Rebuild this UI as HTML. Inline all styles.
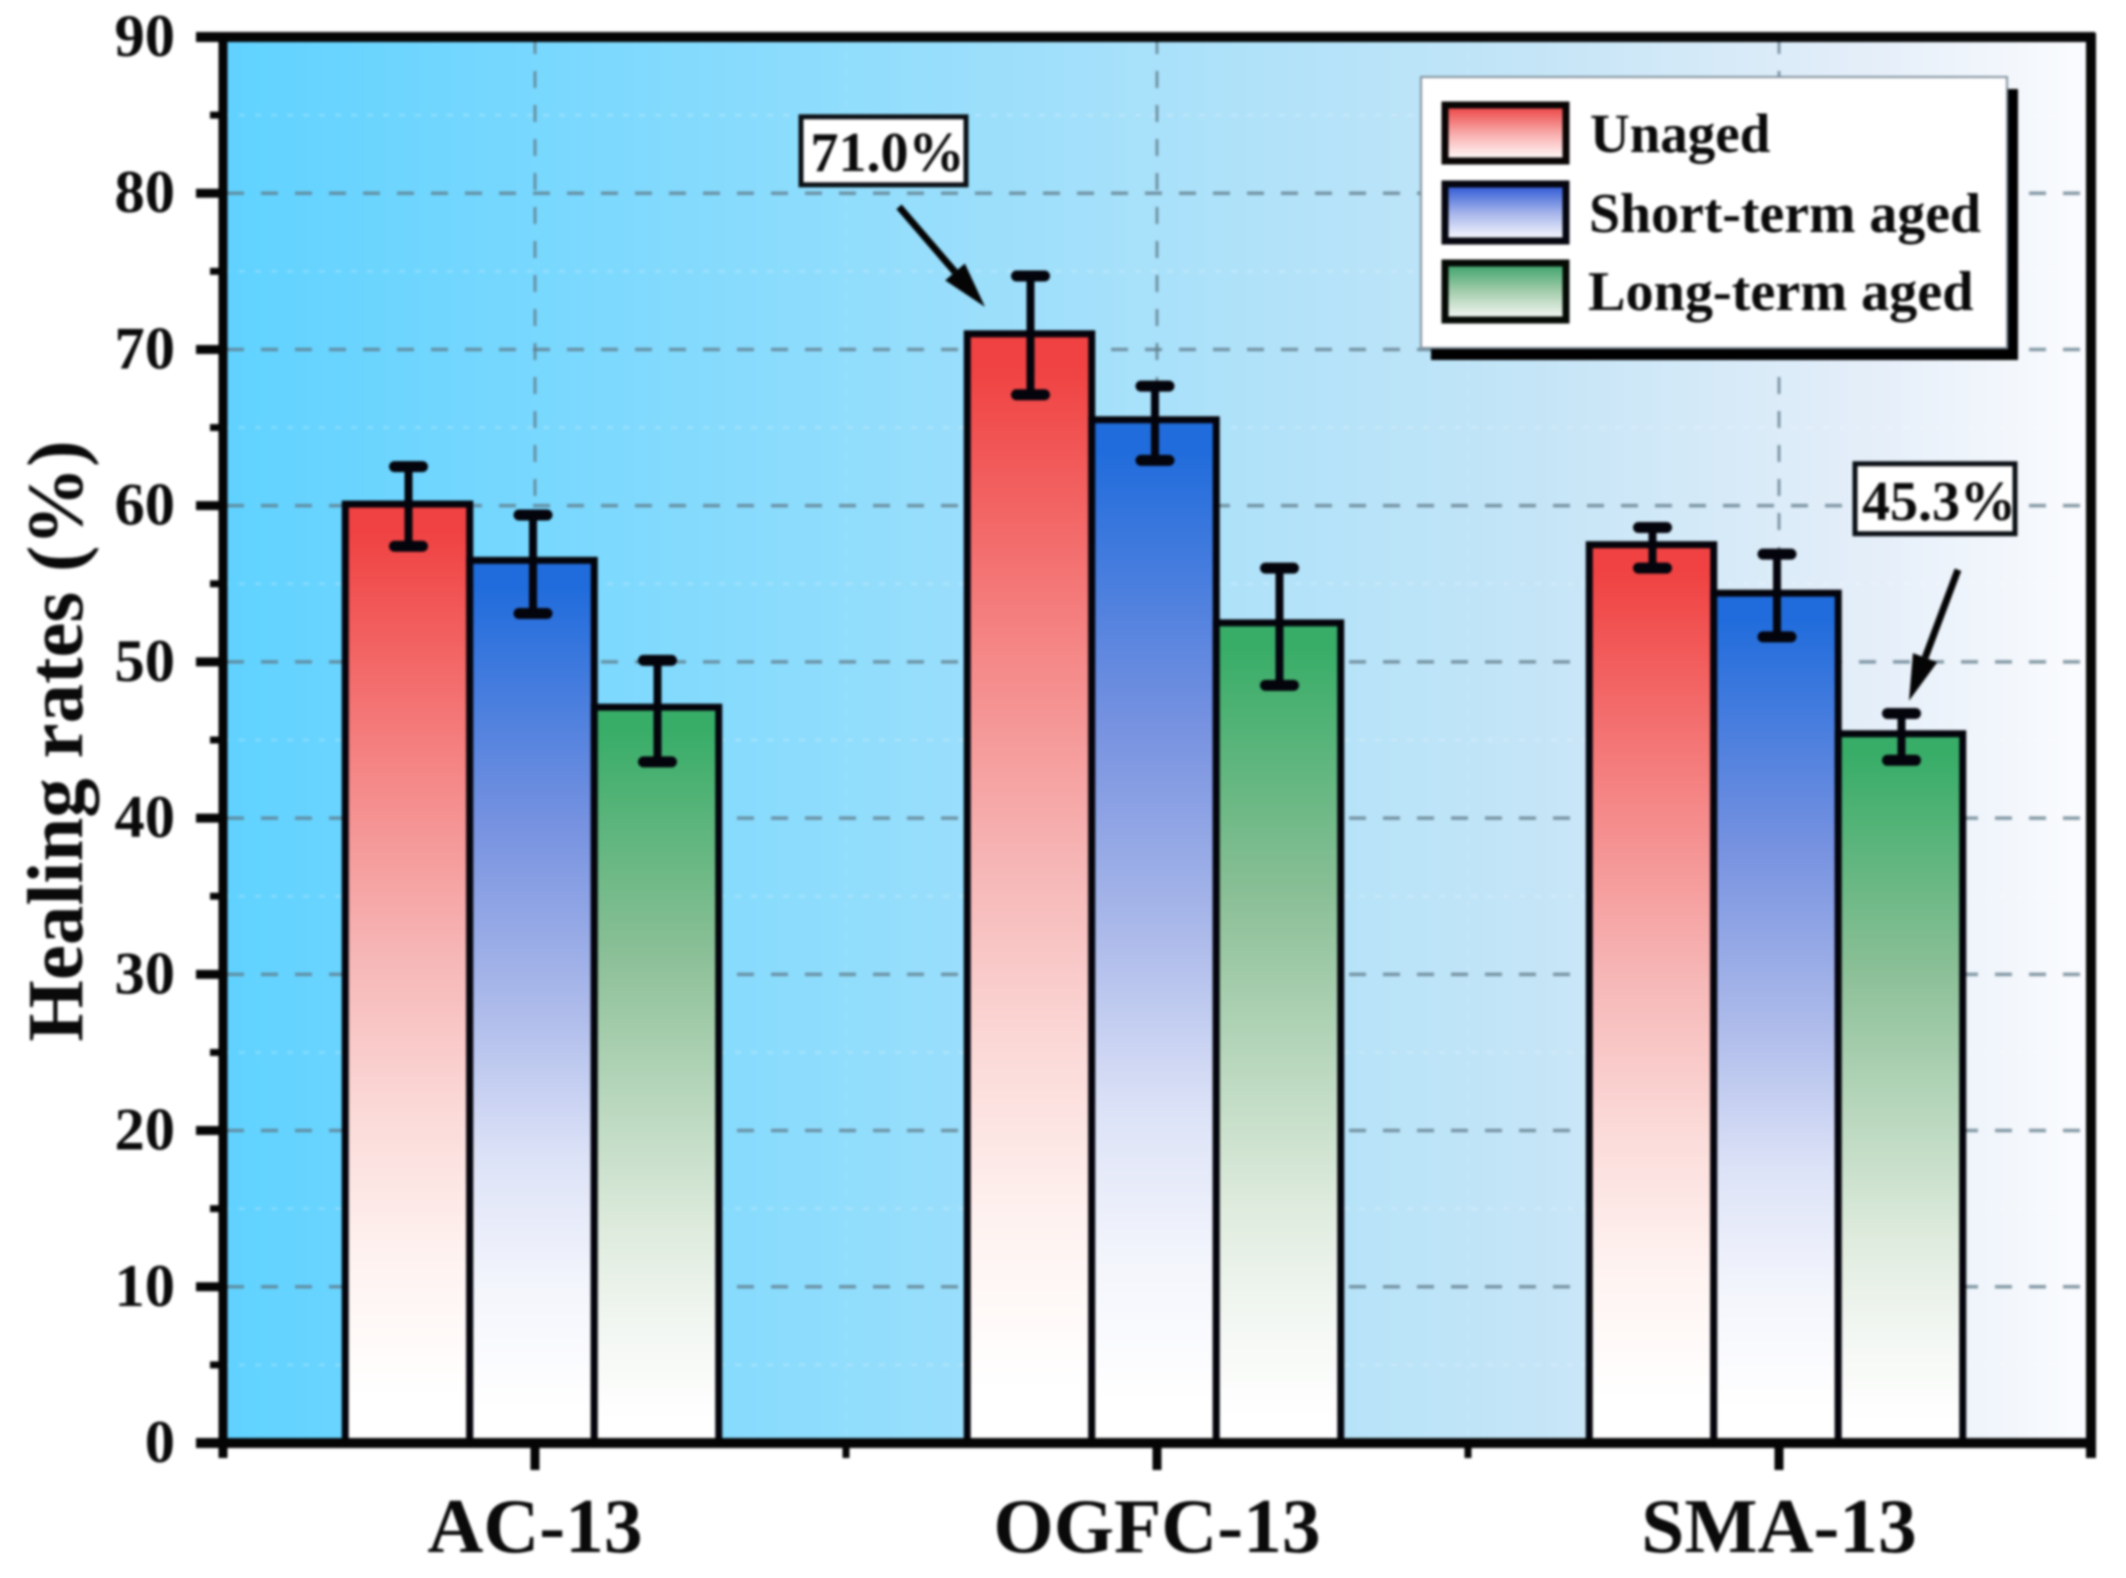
<!DOCTYPE html>
<html lang="en">
<head>
<meta charset="utf-8">
<title>Healing rates chart</title>
<style>
  html, body { margin: 0; padding: 0; background: #ffffff; }
  #chart { display: block; width: 2126px; height: 1578px; filter: blur(1.2px); font-family: "Liberation Serif", serif; }
  text { font-family: "Liberation Serif", serif; font-weight: bold; fill: #0a0a0a; }
</style>
</head>
<body>
<svg id="chart" xmlns="http://www.w3.org/2000/svg" width="2126" height="1578" viewBox="0 0 2126 1578">
  <defs>
    <linearGradient id="plot-bg" x1="0" y1="0" x2="1" y2="0">
      <stop offset="0" stop-color="#60d2ff"/>
      <stop offset="0.3" stop-color="#8bdcfd"/>
      <stop offset="0.5" stop-color="#a9e1fa"/>
      <stop offset="0.7" stop-color="#c4e5f7"/>
      <stop offset="0.88" stop-color="#e4eef9"/>
      <stop offset="1" stop-color="#fbfcfe"/>
    </linearGradient>
    <linearGradient id="fill-unaged" x1="0" y1="0" x2="0" y2="1">
      <stop offset="0.03" stop-color="#f04242"/>
      <stop offset="0.28" stop-color="#f58585"/>
      <stop offset="0.48" stop-color="#f6b6b6"/>
      <stop offset="0.66" stop-color="#fbdcda"/>
      <stop offset="0.8" stop-color="#fef2f0"/>
      <stop offset="0.95" stop-color="#ffffff"/>
    </linearGradient>
    <linearGradient id="fill-short" x1="0" y1="0" x2="0" y2="1">
      <stop offset="0.03" stop-color="#206cdc"/>
      <stop offset="0.3" stop-color="#7792e0"/>
      <stop offset="0.5" stop-color="#abb9ea"/>
      <stop offset="0.68" stop-color="#dde3f7"/>
      <stop offset="0.82" stop-color="#f3f5fc"/>
      <stop offset="0.96" stop-color="#ffffff"/>
    </linearGradient>
    <linearGradient id="fill-long" x1="0" y1="0" x2="0" y2="1">
      <stop offset="0.03" stop-color="#38ad68"/>
      <stop offset="0.33" stop-color="#8abf96"/>
      <stop offset="0.55" stop-color="#bcd9c0"/>
      <stop offset="0.72" stop-color="#e0ecdf"/>
      <stop offset="0.85" stop-color="#f3f7f3"/>
      <stop offset="0.97" stop-color="#ffffff"/>
    </linearGradient>
    <linearGradient id="swatch-unaged" x1="0" y1="0" x2="0" y2="1">
      <stop offset="0.08" stop-color="#ee4f50"/>
      <stop offset="0.5" stop-color="#f8a9a9"/>
      <stop offset="0.95" stop-color="#fff8f8"/>
    </linearGradient>
    <linearGradient id="swatch-short" x1="0" y1="0" x2="0" y2="1">
      <stop offset="0.08" stop-color="#3a62d8"/>
      <stop offset="0.5" stop-color="#a3b2ea"/>
      <stop offset="0.95" stop-color="#f6f7fd"/>
    </linearGradient>
    <linearGradient id="swatch-long" x1="0" y1="0" x2="0" y2="1">
      <stop offset="0.08" stop-color="#48a872"/>
      <stop offset="0.5" stop-color="#a4cdac"/>
      <stop offset="0.95" stop-color="#f2f6f2"/>
    </linearGradient>
  </defs>

  <rect x="223" y="37" width="1868" height="1406" fill="url(#plot-bg)"/>
  <g id="grid"></g>
  <g id="bars"></g>
  <g id="errors"></g>
  <g id="axes"></g>
  <g id="callouts"></g>

  <g>
    <rect x="1431" y="89" width="587" height="271" fill="#000000"/>
    <rect x="1421" y="77" width="586" height="271" fill="#ffffff" stroke="#7f8f9a" stroke-width="2"/>
    <g>
      <rect x="1445" y="105" width="121" height="56" fill="url(#swatch-unaged)" stroke="#0a0505" stroke-width="7"/>
      <text x="1590" y="152" font-size="55">Unaged</text>
    </g>
    <g>
      <rect x="1445" y="184" width="121" height="57" fill="url(#swatch-short)" stroke="#05060f" stroke-width="7"/>
      <text x="1589" y="232" font-size="55.8">Short-term aged</text>
    </g>
    <g>
      <rect x="1445" y="263" width="121" height="57" fill="url(#swatch-long)" stroke="#050a05" stroke-width="7"/>
      <text x="1588" y="310" font-size="56.2">Long-term aged</text>
    </g>
  </g>

  <text x="82" y="741" font-size="79" text-anchor="middle" transform="rotate(-90 82 741)">Healing rates (%)</text>
</svg>

<script>
const categories = ["AC-13", "OGFC-13", "SMA-13"];
const seriesNames = ["unaged", "short-term-aged", "long-term-aged"];
const unaged = [60.1, 71.0, 57.5];
const shortTermAged = [56.5, 65.5, 54.4];
const longTermAged = [47.1, 52.5, 45.4];
const unagedHigh = [62.5, 74.7, 58.6];
const unagedLow = [57.4, 67.1, 56.0];
const shortTermHigh = [59.4, 67.65, 56.9];
const shortTermLow = [53.1, 62.9, 51.6];
const longTermHigh = [50.1, 56.0, 46.7];
const longTermLow = [43.6, 48.5, 43.7];
const calloutLabels = ["71.0%", "45.3%"];
const majorTicks = [0, 10, 20, 30, 40, 50, 60, 70, 80, 90];
const minorTicks = [5, 15, 25, 35, 45, 55, 65, 75, 85];

const SVG_NS = "http://www.w3.org/2000/svg";
const plotLeft = 223, plotRight = 2091, plotTop = 37, plotBottom = 1443;
const seriesValues = [unaged, shortTermAged, longTermAged];
const seriesHigh = [unagedHigh, shortTermHigh, longTermHigh];
const seriesLow = [unagedLow, shortTermLow, longTermLow];
const seriesFills = ["url(#fill-unaged)", "url(#fill-short)", "url(#fill-long)"];
const barWidth = 124.5;

function y(v) { return plotBottom - (v / 90) * (plotBottom - plotTop); }
function xPos(pos) { return 535 + pos * 622; }
function barCenter(cat, s) { return xPos(cat) - 3 + (s - 1) * barWidth; }

function make(parent, tag, attrs, content) {
  const e = document.createElementNS(SVG_NS, tag);
  for (const k in attrs) e.setAttribute(k, attrs[k]);
  if (content !== undefined) e.textContent = content;
  parent.appendChild(e);
  return e;
}

const grid = document.getElementById("grid");
const bars = document.getElementById("bars");
const errors = document.getElementById("errors");
const axes = document.getElementById("axes");
const callouts = document.getElementById("callouts");

/* minor grid */
minorTicks.forEach(function (t) {
  const l = make(grid, "line", { x1: plotLeft, x2: plotRight, y1: y(t), y2: y(t), stroke: "#ffffff", "stroke-opacity": 0.22, "stroke-width": 2.5, "stroke-dasharray": "6 10" });
  
  
});
[0.5, 1.5].forEach(function (p) {
  const l = make(grid, "line", { x1: xPos(p), x2: xPos(p), y1: plotTop, y2: plotBottom, stroke: "#ffffff", "stroke-opacity": 0.1, "stroke-width": 2.5, "stroke-dasharray": "6 10" });
  
  
});

/* major grid */
majorTicks.forEach(function (t) {
  if (t === 0 || t === 90) return;
  const l = make(grid, "line", { x1: plotLeft + 4, x2: plotRight, y1: y(t), y2: y(t), stroke: "#5f7a88", "stroke-opacity": 0.75, "stroke-width": 3.5, "stroke-dasharray": "17 17" });
  
  
});
categories.forEach(function (c, i) {
  const l = make(grid, "line", { x1: xPos(i), x2: xPos(i), y1: plotTop, y2: plotBottom, stroke: "#5f7a88", "stroke-opacity": 0.75, "stroke-width": 3, "stroke-dasharray": "17 17" });
  
  
});

/* bars and error bars */
categories.forEach(function (c, i) {
  seriesValues.forEach(function (vals, s) {
    const cx = barCenter(i, s);
    const r = make(bars, "rect", { x: cx - barWidth / 2, y: y(vals[i]), width: barWidth, height: plotBottom - y(vals[i]), fill: seriesFills[s], stroke: "#04040c", "stroke-width": 7 });
    
    

    const top = y(seriesHigh[s][i]), bot = y(seriesLow[s][i]), ex = cx + 1;
    const g = make(errors, "g", { stroke: "#04040c", "stroke-linecap": "round" });
    
    
    make(g, "line", { x1: ex, x2: ex, y1: top, y2: bot, "stroke-width": 8, "stroke-linecap": "butt" });
    make(g, "line", { x1: ex - 14, x2: ex + 14, y1: top, y2: top, "stroke-width": 11 });
    make(g, "line", { x1: ex - 14, x2: ex + 14, y1: bot, y2: bot, "stroke-width": 11 });
  });
});

/* axis frame */
function axisLine(x1, y1, x2, y2, w, name) {
  const l = make(axes, "line", { x1: x1, y1: y1, x2: x2, y2: y2, stroke: "#050505", "stroke-width": w });
  
  
  return l;
}
axisLine(plotLeft - 27, plotTop, plotRight + 4, plotTop, 10, 'top-axis-line');
axisLine(plotLeft - 27, plotBottom, plotRight + 4, plotBottom, 10, 'x-axis-line');
axisLine(plotLeft, plotTop, plotLeft, plotBottom + 15, 9, 'y-axis-line');
axisLine(plotRight, plotTop - 4, plotRight, plotBottom + 15, 10, 'right-axis-line');

majorTicks.forEach(function (t) {
  axisLine(plotLeft - 27, y(t), plotLeft, y(t), 9, 'y-major-tick-' + t);
  const label = make(axes, "text", { x: 175, y: y(t) + 19, "font-size": 60.5, "text-anchor": "end" }, String(t));
  
  
});
minorTicks.forEach(function (t) {
  axisLine(plotLeft - 13, y(t), plotLeft, y(t), 7, 'y-minor-tick-' + t);
});
categories.forEach(function (c, i) {
  axisLine(xPos(i), plotBottom, xPos(i), plotBottom + 27, 9, 'x-major-tick-' + c);
  const label = make(axes, "text", { x: xPos(i), y: 1552, "font-size": 77.5, "text-anchor": "middle" }, c);
  
  
});
[0.5, 1.5].forEach(function (p) {
  axisLine(xPos(p), plotBottom, xPos(p), plotBottom + 15, 7, 'x-minor-tick');
});

/* callouts */
function callout(text, name, bx, by, bw, bh, sx, sy, tx, ty) {
  const g = make(callouts, "g", {});
  
  
  make(g, "rect", { x: bx, y: by, width: bw, height: bh, fill: "#ffffff", stroke: "#0a0f14", "stroke-width": 5 });
  make(g, "text", { x: bx + bw / 2 + 4, y: by + bh - 14, "font-size": 56, "text-anchor": "middle" }, text);
  const dx = tx - sx, dy = ty - sy, len = Math.hypot(dx, dy), ux = dx / len, uy = dy / len;
  const hx = tx - ux * 46, hy = ty - uy * 46;
  make(g, "line", { x1: sx, y1: sy, x2: hx, y2: hy, stroke: "#050505", "stroke-width": 7 });
  make(g, "polygon", { points: tx + "," + ty + " " + (hx - uy * 13) + "," + (hy + ux * 13) + " " + (hx + uy * 13) + "," + (hy - ux * 13), fill: "#050505" });
}
const tipA = y(unaged[1]) - 27;
callout(calloutLabels[0], 'callout-ogfc-13-unaged', 801, tipA - 190, 165, 68, barCenter(1, 0) - 130.5, tipA - 100, barCenter(1, 0) - 44.5, tipA);
const tipB = y(longTermAged[2]) - 33;
callout(calloutLabels[1], 'callout-sma-13-long-term-aged', 1855, tipB - 237, 160, 70, barCenter(2, 2) + 57.5, tipB - 131, barCenter(2, 2) + 8.5, tipB);
</script>
</body>
</html>
